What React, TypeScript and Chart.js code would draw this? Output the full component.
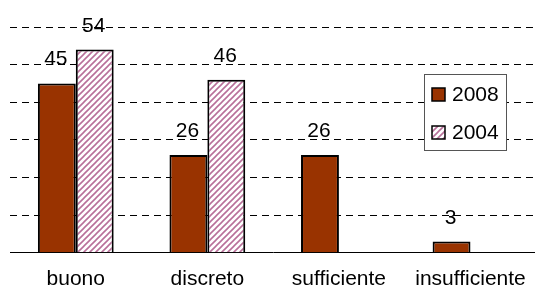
import React, { useEffect, useRef } from "react";
import { Chart, registerables } from "chart.js";

Chart.register(...registerables);

const categories = ["buono", "discreto", "sufficiente", "insufficiente"];
const series2008 = [45, 26, 26, 3];
const series2004: (number | null)[] = [54, 46, null, null];
const seriesLabels = ["2008", "2004"];
const yTicks = { min: 0, max: 60, step: 10 };

const FONT = "'Liberation Sans', Arial, sans-serif";

function makeHatch(): CanvasPattern | string {
  const c = document.createElement("canvas");
  const s = 6;
  c.width = s;
  c.height = s;
  const g = c.getContext("2d");
  if (!g) return "#c080a0";
  g.fillStyle = "#ffffff";
  g.fillRect(0, 0, s, s);
  g.strokeStyle = "#b8709a";
  g.lineWidth = 1.6;
  g.beginPath();
  g.moveTo(0, s);
  g.lineTo(s, 0);
  g.moveTo(-s / 2, s / 2);
  g.lineTo(s / 2, -s / 2);
  g.moveTo(s / 2, s * 1.5);
  g.lineTo(s * 1.5, s / 2);
  g.stroke();
  const p = g.createPattern(c, "repeat");
  return p || "#c080a0";
}

export default function App() {
  const ref = useRef<HTMLCanvasElement | null>(null);

  useEffect(() => {
    const canvas = ref.current;
    if (!canvas) return;
    const hatch = makeHatch();

    const valueLabels = {
      id: "valueLabels",
      afterDatasetsDraw(chart: any) {
        const ctx = chart.ctx;
        ctx.save();
        ctx.font = `21px ${FONT}`;
        ctx.fillStyle = "#000";
        ctx.textAlign = "center";
        ctx.textBaseline = "alphabetic";
        chart.data.datasets.forEach((ds: any, di: number) => {
          const meta = chart.getDatasetMeta(di);
          meta.data.forEach((el: any, i: number) => {
            const v = ds.data[i];
            if (v === null || v === undefined) return;
            ctx.fillText(String(v), el.x - 1, el.y - 18);
          });
        });
        ctx.restore();
      },
    };

    const boxLegend = {
      id: "boxLegend",
      afterDraw(chart: any) {
        const ctx = chart.ctx;
        ctx.save();
        const bx = 424, by = 74, bw = 82, bh = 76;
        ctx.fillStyle = "#fff";
        ctx.fillRect(bx, by, bw, bh);
        ctx.strokeStyle = "#555";
        ctx.lineWidth = 1;
        ctx.strokeRect(bx + 0.5, by + 0.5, bw, bh);
        ctx.font = `21px ${FONT}`;
        ctx.textBaseline = "middle";
        ctx.textAlign = "left";
        chart.data.datasets.forEach((ds: any, i: number) => {
          const cy = by + 20 + i * 38;
          ctx.fillStyle = ds.backgroundColor;
          ctx.fillRect(bx + 8, cy - 6, 13, 13);
          ctx.strokeStyle = "#000";
          ctx.lineWidth = 1.5;
          ctx.strokeRect(bx + 8, cy - 6, 13, 13);
          ctx.fillStyle = "#000";
          ctx.fillText(ds.label, bx + 28, cy + 1);
        });
        ctx.restore();
      },
    };

    const chart = new Chart(canvas, {
      type: "bar",
      data: {
        labels: categories,
        datasets: [
          {
            label: seriesLabels[0],
            data: series2008,
            backgroundColor: "#993300",
            borderColor: "#000",
            borderWidth: 2,
            categoryPercentage: 0.576,
            barPercentage: 1,
          },
          {
            label: seriesLabels[1],
            data: series2004 as any,
            backgroundColor: hatch as any,
            borderColor: "#000",
            borderWidth: 2,
            categoryPercentage: 0.576,
            barPercentage: 1,
          },
        ],
      },
      options: {
        animation: false,
        responsive: false,
        maintainAspectRatio: false,
        layout: { padding: { left: 10, right: 2, top: 27, bottom: 0 } },
        plugins: {
          legend: { display: false },
          tooltip: { enabled: false },
        },
        scales: {
          x: {
            grid: { display: false, drawTicks: false },
            border: { display: true, color: "#000", width: 1 },
            ticks: {
              color: "#000",
              font: { family: FONT, size: 21 },
              padding: 14,
            },
          },
          y: {
            min: yTicks.min,
            max: yTicks.max,
            ticks: { display: false, stepSize: yTicks.step },
            border: { display: false, dash: [7, 5] },
            grid: {
              drawTicks: false,
              color: (c: any) => (c.tick && c.tick.value === 0 ? "rgba(0,0,0,0)" : "#000"),
              lineWidth: 1,
            },
          },
        },
      },
      plugins: [valueLabels, boxLegend],
    });
    return () => chart.destroy();
  }, []);

  return (
    <div
      style={{
        position: "fixed",
        left: 0,
        top: 0,
        width: 535,
        height: 287,
        overflow: "hidden",
        background: "#fff",
      }}
    >
      <canvas ref={ref} width={540} height={306} style={{ display: "block" }} />
    </div>
  );
}
